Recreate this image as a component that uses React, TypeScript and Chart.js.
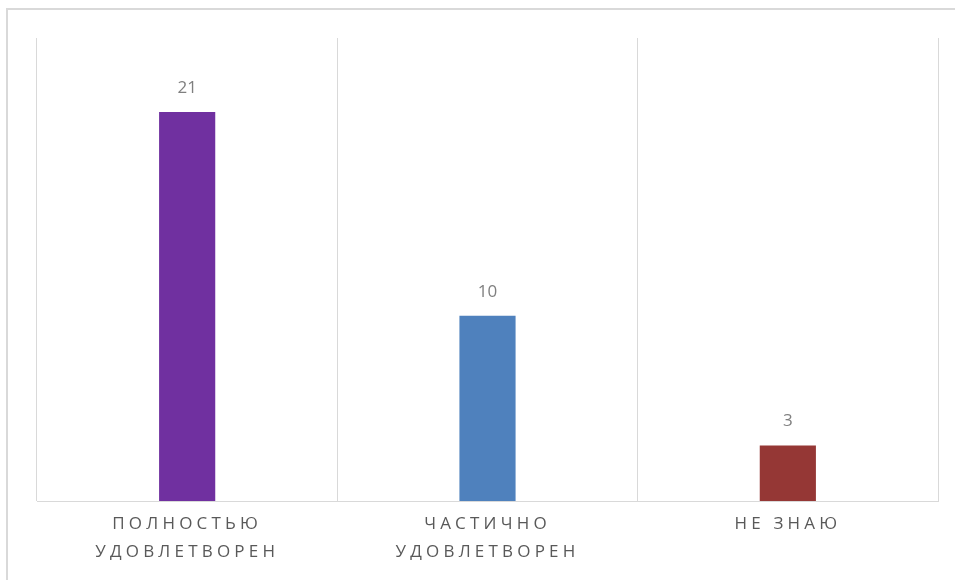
import React, { useEffect, useRef } from "react";
import { Chart, registerables } from "chart.js";

Chart.register(...registerables);

const categories: string[][] = [
  ["ПОЛНОСТЬЮ", "УДОВЛЕТВОРЕН"],
  ["ЧАСТИЧНО", "УДОВЛЕТВОРЕН"],
  ["НЕ ЗНАЮ"],
];
const values: number[] = [21, 10, 3];
const barColors: string[] = ["#7030a0", "#4f81bd", "#953735"];
const yMax = 25;

const FONT = "'Open Sans', 'Noto Sans', sans-serif";

export default function App() {
  const ref = useRef<HTMLCanvasElement | null>(null);

  useEffect(() => {
    if (!ref.current) return;
    const spacingPlugin = {
      id: "spacing",
      beforeDraw(chart: any) {
        chart.ctx.letterSpacing = "4.2px";
      },
      afterDatasetsDraw(chart: any) {
        const ctx = chart.ctx;
        ctx.save();
        ctx.letterSpacing = "0px";
        ctx.font = `17px ${FONT}`;
        ctx.fillStyle = "#7f7f7f";
        ctx.textAlign = "center";
        ctx.textBaseline = "middle";
        const meta = chart.getDatasetMeta(0);
        meta.data.forEach((bar: any, i: number) => {
          ctx.fillText(String(values[i]), bar.x, bar.y - 24);
        });
        ctx.restore();
      },
      afterDraw(chart: any) {
        chart.ctx.letterSpacing = "0px";
      },
    };

    const chart = new Chart(ref.current, {
      type: "bar",
      data: {
        labels: categories,
        datasets: [
          {
            data: values,
            backgroundColor: barColors,
            borderWidth: 0,
            categoryPercentage: 1,
            barPercentage: 0.187,
          },
        ],
      },
      options: {
        animation: false,
        responsive: false,
        maintainAspectRatio: false,
        layout: { padding: { left: 37, right: 17, top: 38, bottom: 0 } },
        plugins: {
          legend: { display: false },
          tooltip: { enabled: false },
        },
        scales: {
          x: {
            grid: {
              display: true,
              color: "#d9d9d9",
              lineWidth: 1,
              drawTicks: false,
              offset: true,
            },
            border: { display: true, color: "#d9d9d9", width: 1 },
            ticks: {
              color: "#595959",
              font: { family: FONT, size: 17, lineHeight: 28 / 17 },
              padding: 9,
              maxRotation: 0,
              minRotation: 0,
              autoSkip: false,
            },
            afterFit(scale: any) {
              scale.height = 79;
            },
          },
          y: {
            display: false,
            min: 0,
            max: yMax,
          },
        },
      },
      plugins: [spacingPlugin],
    });
    return () => chart.destroy();
  }, []);

  return (
    <div
      style={{
        position: "fixed",
        left: 0,
        top: 0,
        width: 955,
        height: 580,
        overflow: "hidden",
        background: "#ffffff",
      }}
    >
      <div
        style={{
          position: "absolute",
          left: 6,
          top: 8,
          width: 1200,
          height: 1200,
          border: "2px solid #d9d9d9",
          boxSizing: "border-box",
        }}
      />
      <canvas
        ref={ref}
        width={955}
        height={580}
        style={{ position: "absolute", left: 0, top: 0, width: 955, height: 580 }}
      />
    </div>
  );
}
